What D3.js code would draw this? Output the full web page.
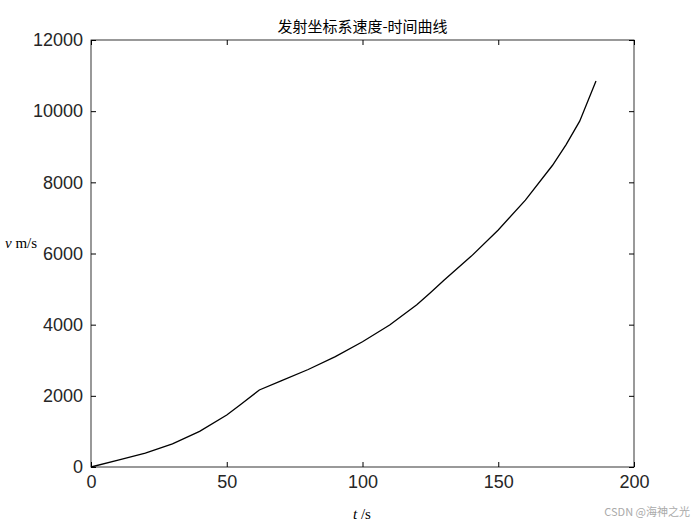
<!DOCTYPE html>
<html><head><meta charset="utf-8">
<script src="https://cdn.jsdelivr.net/npm/d3@7"></script>
<style>body{margin:0;background:#fff}</style>
</head><body><div id="container"></div>
<script>
// curve values
const times = [0, 10, 20, 30, 40, 50, 55, 62, 70, 80, 90, 100, 110, 120, 125, 130, 140, 150, 160, 170, 175, 180, 186];
const speeds = [0, 190, 390, 650, 1000, 1460, 1750, 2164, 2420, 2740, 3100, 3520, 3990, 4560, 4900, 5250, 5920, 6660, 7500, 8480, 9060, 9720, 10850];
const xTicks = [0, 50, 100, 150, 200];
const yTicks = [0, 2000, 4000, 6000, 8000, 10000, 12000];

const width = 700, height = 525,
  margin = {top: 40, left: 91, right: 66, bottom: 58};

const svg = d3.select("#container").append("svg")
  .attr("width", width).attr("height", height);

const xScale = d3.scaleLinear().domain([0, 200]).range([margin.left, width - margin.right]);
const yScale = d3.scaleLinear().domain([0, 12000]).range([height - margin.bottom, margin.top]);

// box
svg.append("rect")
  .attr("x", margin.left).attr("y", margin.top)
  .attr("width", xScale(200) - margin.left)
  .attr("height", yScale(0) - margin.top)
  .attr("fill", "none").attr("stroke", "#000").attr("stroke-width", 0.8);

const tickFont = g => g.selectAll("text")
  .style("font-family", "Liberation Sans, Arial, sans-serif").style("font-size", "18px").attr("fill", "#262626");

svg.append("g").attr("transform", `translate(0,${yScale(0)})`)
  .call(d3.axisBottom(xScale).tickValues(xTicks).tickSize(-5).tickPadding(8).tickFormat(d3.format("d")))
  .call(g => g.select(".domain").remove()).call(tickFont);
svg.append("g").attr("transform", `translate(0,${margin.top})`)
  .call(d3.axisTop(xScale).tickValues(xTicks).tickSize(-5).tickFormat(""))
  .call(g => g.select(".domain").remove());
svg.append("g").attr("transform", `translate(${margin.left},0)`)
  .call(d3.axisLeft(yScale).tickValues(yTicks).tickSize(-5).tickPadding(8).tickFormat(d3.format("d")))
  .call(g => g.select(".domain").remove()).call(tickFont);
svg.append("g").attr("transform", `translate(${xScale(200)},0)`)
  .call(d3.axisRight(yScale).tickValues(yTicks).tickSize(-5).tickFormat(""))
  .call(g => g.select(".domain").remove());

const line = d3.line().x(d => xScale(d[0])).y(d => yScale(d[1]));
svg.append("path")
  .datum(times.map((t, i) => [t, speeds[i]]))
  .attr("d", line).attr("fill", "none").attr("stroke", "#000").attr("stroke-width", 1.3);

const serif = "Liberation Serif, Times New Roman, Noto Sans CJK SC, serif";
svg.append("text").attr("x", (margin.left + xScale(200)) / 2).attr("y", 32)
  .attr("text-anchor", "middle").style("font-family", "Noto Sans CJK SC, serif").style("font-size", "15px")
  .text("发射坐标系速度-时间曲线");

const xl = svg.append("text").attr("x", 362).attr("y", 519).attr("text-anchor", "middle")
  .style("font-family", serif).style("font-size", "15px");
xl.append("tspan").style("font-style", "italic").text("t");
xl.append("tspan").text(" /s");

const yl = svg.append("text").attr("x", 5).attr("y", 248)
  .style("font-family", serif).style("font-size", "15px");
yl.append("tspan").style("font-style", "italic").text("v");
yl.append("tspan").text(" m/s");

svg.append("text").attr("x", 690).attr("y", 516).attr("text-anchor", "end")
  .style("font-family", "Noto Sans CJK SC, sans-serif").style("font-size", "11px").attr("fill", "#aaa")
  .text("CSDN @海神之光");
</script>
</body></html>
